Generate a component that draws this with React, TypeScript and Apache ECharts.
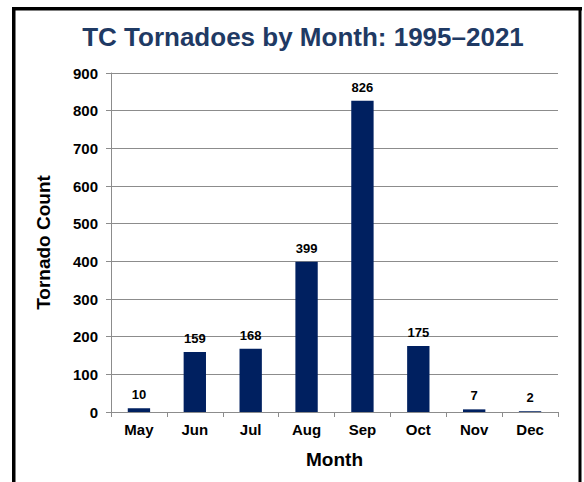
import React, { useEffect, useRef } from "react";
import * as echarts from "echarts";

const months = ["May", "Jun", "Jul", "Aug", "Sep", "Oct", "Nov", "Dec"];
const counts = [10, 159, 168, 399, 826, 175, 7, 2];
const yTicks = { min: 0, max: 900, interval: 100 };
const titleText = "TC Tornadoes by Month: 1995\u20132021";

export default function App() {
  const ref = useRef<HTMLDivElement>(null);
  useEffect(() => {
    const chart = echarts.init(ref.current!, null, { renderer: "svg" });
    const font = "'Liberation Sans', Arial, sans-serif";
    chart.setOption({
      animation: false,
      backgroundColor: "#ffffff",
      title: {
        text: titleText,
        left: 298,
        textAlign: "center",
        top: 19,
        textStyle: { fontFamily: font, fontWeight: "bold", fontSize: 26, color: "#1F3A64" },
      },
      graphic: [
        { type: "rect", shape: { x: 12, y: 7, width: 3.5, height: 480 }, style: { fill: "#000" } },
        { type: "rect", shape: { x: 12, y: 7, width: 570, height: 3.5 }, style: { fill: "#000" } },
        { type: "rect", shape: { x: 578.5, y: 7, width: 3, height: 480 }, style: { fill: "#000" } },
      ],
      grid: { left: 111, right: 26, top: 73, bottom: 70 },
      xAxis: {
        type: "category",
        data: months,
        name: "Month",
        nameLocation: "middle",
        nameGap: 38,
        nameTextStyle: { fontFamily: font, fontWeight: "bold", fontSize: 19, color: "#000" },
        axisLine: { lineStyle: { color: "#8c8c8c", width: 1 } },
        axisTick: { show: true, alignWithLabel: false, length: 5, lineStyle: { color: "#8c8c8c" } },
        axisLabel: { fontFamily: font, fontWeight: "bold", fontSize: 15, color: "#000", margin: 10 },
      },
      yAxis: {
        type: "value",
        min: yTicks.min,
        max: yTicks.max,
        interval: yTicks.interval,
        name: "Tornado Count",
        nameLocation: "middle",
        nameGap: 58,
        nameTextStyle: { fontFamily: font, fontWeight: "bold", fontSize: 19, color: "#000" },
        axisLine: { show: true, lineStyle: { color: "#8c8c8c", width: 1 } },
        axisTick: { show: true, inside: false, length: 5, lineStyle: { color: "#8c8c8c" } },
        axisLabel: { fontFamily: font, fontWeight: "bold", fontSize: 15, color: "#000", margin: 13 },
        splitLine: { show: true, lineStyle: { color: "#8c8c8c", width: 1 } },
      },
      series: [
        {
          type: "bar",
          data: counts,
          barWidth: "40%",
          itemStyle: { color: "#002060" },
          label: {
            show: true,
            position: "top",
            distance: 7,
            fontFamily: font,
            fontWeight: "bold",
            fontSize: 13,
            color: "#000",
          },
        },
      ],
    });
    return () => chart.dispose();
  }, []);
  return (
    <div
      ref={ref}
      style={{ position: "absolute", left: 0, top: 0, width: 584, height: 482 }}
    />
  );
}
